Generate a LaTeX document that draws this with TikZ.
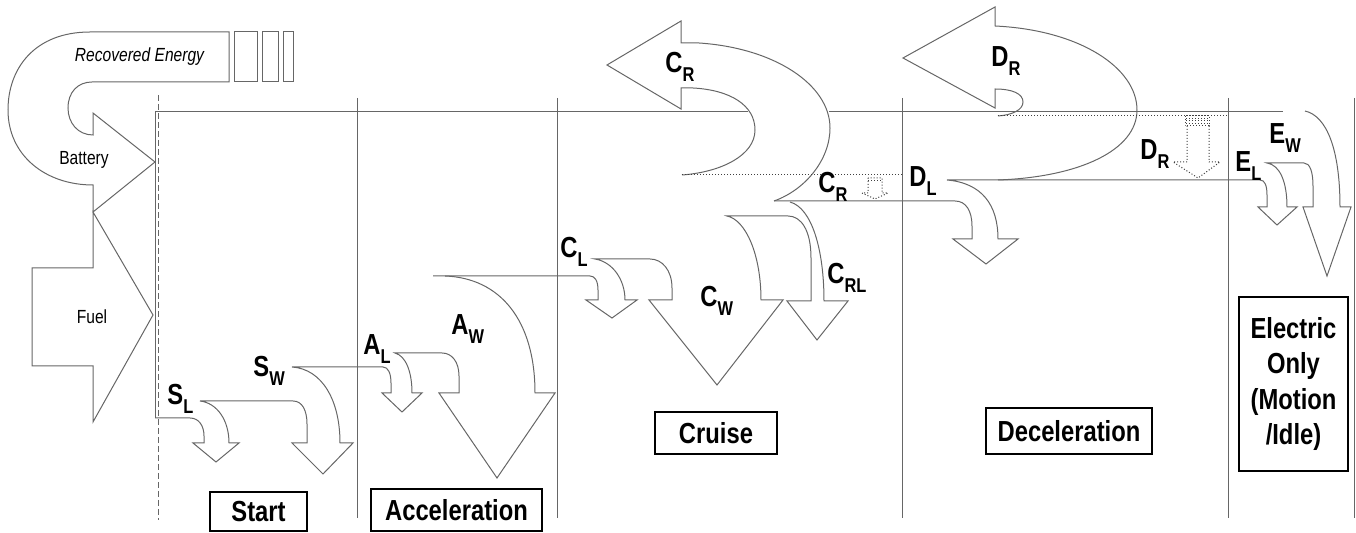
\documentclass[tikz,border=0pt]{standalone}
\usepackage{fontspec}
\setmainfont{Liberation Sans}
\newfontfamily\narrowfont[FakeStretch=0.82]{Liberation Sans}
\newcommand{\flowlab}[2]{{\narrowfont\bfseries\fontsize{14.5}{15}\selectfont #1\raisebox{-4.5pt}{\fontsize{10}{10}\selectfont #2}}}
\begin{document}
\begin{tikzpicture}[x=0.5pt,y=-0.5pt,
  flow/.style={draw=black!60,line width=0.5pt},
  ghost/.style={draw=black!75,line width=0.5pt,densely dotted},
  lbl/.style={anchor=base west,inner sep=0pt},
  smalltext/.style={inner sep=0pt,anchor=base,font=\narrowfont\fontsize{9.5}{10}\selectfont},
  phasebox/.style={draw=black,line width=0.7pt,inner sep=0pt,align=center,
    font=\narrowfont\bfseries\fontsize{14.5}{17.8}\selectfont}]
            \useasboundingbox (0,0) rectangle (1356,533);

            \draw[flow] (229,32) -- (90,32) .. controls (35,32) and (8,68) .. (8,110) .. controls (8,155) and (45,185) .. (93,185) -- (93,212) -- (155,162) -- (93,113) -- (93,135) .. controls (78,135) and (68,123) .. (68,108) .. controls (68,92) and (78,82) .. (92,82) -- (229,82) -- cycle;
            \draw[flow] (234,32) rectangle (257,82);
            \draw[flow] (262,32) rectangle (278,82);
            \draw[flow] (283,32) rectangle (293,82);
            \draw[flow] (32,268) -- (93,268) -- (93,212) -- (153,315) -- (93,422) -- (93,366) -- (32,366) -- cycle;

            \node[smalltext, font=\narrowfont\itshape\fontsize{9.5}{10}\selectfont] (recovered) at (139.5,62) {Recovered Energy};
            \node[smalltext] (battery) at (84,165) {Battery};
            \node[smalltext] (fuel) at (92,324) {Fuel};

            \foreach \x in {357,557,902,1228,1354} \draw[flow] (\x,98) -- (\x,518);
            \draw[black!60, line width=0.5pt, dash pattern=on 3pt off 1.5pt] (158,95) -- (158,520);

            \draw[flow] (155,418) -- (155,112) -- (748,112);
            \draw[flow] (829,112) -- (1283,112);

            % start and acceleration
            \draw[flow] (155,418) -- (190,418) .. controls (199,418) and (204,426) .. (204,436) -- (204,443) -- (193,443) -- (216,462) -- (239,443) -- (229,443) .. controls (229,420) and (217,403) .. (200,401)
              -- (293,401) .. controls (302,401) and (307,410) .. (307,424) -- (307,443) -- (292,443) -- (323,474) -- (353,443) -- (340,443) .. controls (340,400) and (322,369) .. (292,367)
              -- (383,367) .. controls (388,367) and (391,373) .. (391,383) -- (391,393) -- (382,393) -- (402,412) -- (422,393) -- (412,393) .. controls (412,372) and (406,356) .. (395,353)
              -- (442,353) .. controls (452,353) and (459,362) .. (459,376) -- (459,393) -- (439,393) -- (497,478) -- (555,393) -- (535,393) .. controls (535,320) and (500,278) .. (445,276);

            % cruise
            \draw[flow] (433,276) -- (590,276) .. controls (595,276) and (598,281) .. (598,290) -- (598,300) -- (586,300) -- (612,318) -- (637,300) -- (625,300) .. controls (625,280) and (613,262) .. (595,259)
              -- (650,259) .. controls (662,259) and (672,270) .. (672,288) -- (672,300) -- (649,300) -- (717,385) -- (783,300) -- (761,300) .. controls (761,255) and (746,220) .. (727,216)
              -- (788,216) .. controls (801,216) and (811,230) .. (811,258) -- (811,301) -- (787,301) -- (817,340) -- (848,301) -- (824,301) .. controls (824,250) and (812,208) .. (790,202);
            \draw[flow] (682,175) .. controls (722,172) and (755,155) .. (755,130) .. controls (755,105) and (730,90) .. (693,88) -- (681,88) -- (681,109) -- (607,65) -- (681,21) -- (681,43) -- (699,43) .. controls (775,48) and (830,85) .. (830,128) .. controls (830,160) and (805,190) .. (774,201);
            \draw[ghost] (682,175) -- (902,175);
            \draw[ghost] (868,178) -- (868,193) -- (862,193) -- (875,199) -- (888,193) -- (882,193) -- (882,178) -- cycle;
            \draw[ghost] (868,181) -- (882,181);

            % deceleration and electric only
            \draw[flow] (774,201) -- (955,201) .. controls (966,201) and (972,211) .. (972,226) -- (972,239) -- (953,239) -- (986,264) -- (1018,239) -- (998,239) .. controls (998,205) and (982,183) .. (947,180)
              -- (1260,180) .. controls (1265,180) and (1267,186) .. (1267,195) -- (1267,207) -- (1258,207) -- (1277,225) -- (1297,207) -- (1287,207) .. controls (1287,182) and (1280,165) .. (1267,163)
              -- (1304,163) .. controls (1310,163) and (1313,172) .. (1313,186) -- (1313,207) -- (1303,207) -- (1327,276) -- (1351,207) -- (1340,207) .. controls (1340,150) and (1327,116) .. (1305,111);
            \draw[flow] (998,116) .. controls (1012,115) and (1023,110) .. (1023,102) .. controls (1023,94) and (1013,89) .. (995,89) -- (995,108) -- (903,58) -- (995,7) -- (995,26) .. controls (1080,30) and (1137,68) .. (1137,110) .. controls (1137,150) and (1080,177) .. (998,180);
            \draw[ghost] (998,116) -- (1228,116);
            \draw[ghost] (1185,116) rectangle (1209,126);
            \foreach \y in {118.5,121,123.5} \draw[ghost] (1186,\y) -- (1208,\y);
            \draw[ghost] (1187,126) -- (1187,162) -- (1173,162) -- (1198,178) -- (1220,162) -- (1209,162) -- (1209,126);

            \node[lbl] (sl) at (167,405) {\flowlab{S}{L}};
            \node[lbl] (sw) at (253,377) {\flowlab{S}{W}};
            \node[lbl] (al) at (363,355) {\flowlab{A}{L}};
            \node[lbl] (aw) at (451,335) {\flowlab{A}{W}};
            \node[lbl] (cl) at (560,258) {\flowlab{C}{L}};
            \node[lbl] (cw) at (700,307) {\flowlab{C}{W}};
            \node[lbl] (crl) at (827,284) {\flowlab{C}{RL}};
            \node[lbl] (crtop) at (665,73) {\flowlab{C}{R}};
            \node[lbl] (crlow) at (818,193) {\flowlab{C}{R}};
            \node[lbl] (drtop) at (991,67) {\flowlab{D}{R}};
            \node[lbl] (drlow) at (1140,160) {\flowlab{D}{R}};
            \node[lbl] (dl) at (909,187) {\flowlab{D}{L}};
            \node[lbl] (el) at (1235,172) {\flowlab{E}{L}};
            \node[lbl] (ew) at (1269,144) {\flowlab{E}{W}};

            \node[phasebox, minimum width=48.5pt, minimum height=19.5pt] (start) at (258.5,511.5) {Start};
            \node[phasebox, minimum width=85.5pt, minimum height=21pt] (accel) at (456.5,510) {Acceleration};
            \node[phasebox, minimum width=61pt, minimum height=21pt] (cruise) at (716,433) {Cruise};
            \node[phasebox, minimum width=83pt, minimum height=23pt] (decel) at (1069,431) {Deceleration};
            \node[phasebox, minimum width=54.5pt, minimum height=87pt] (electric) at (1293.5,384) {Electric\\Only\\(Motion\\/Idle)};
\end{tikzpicture}
\end{document}
